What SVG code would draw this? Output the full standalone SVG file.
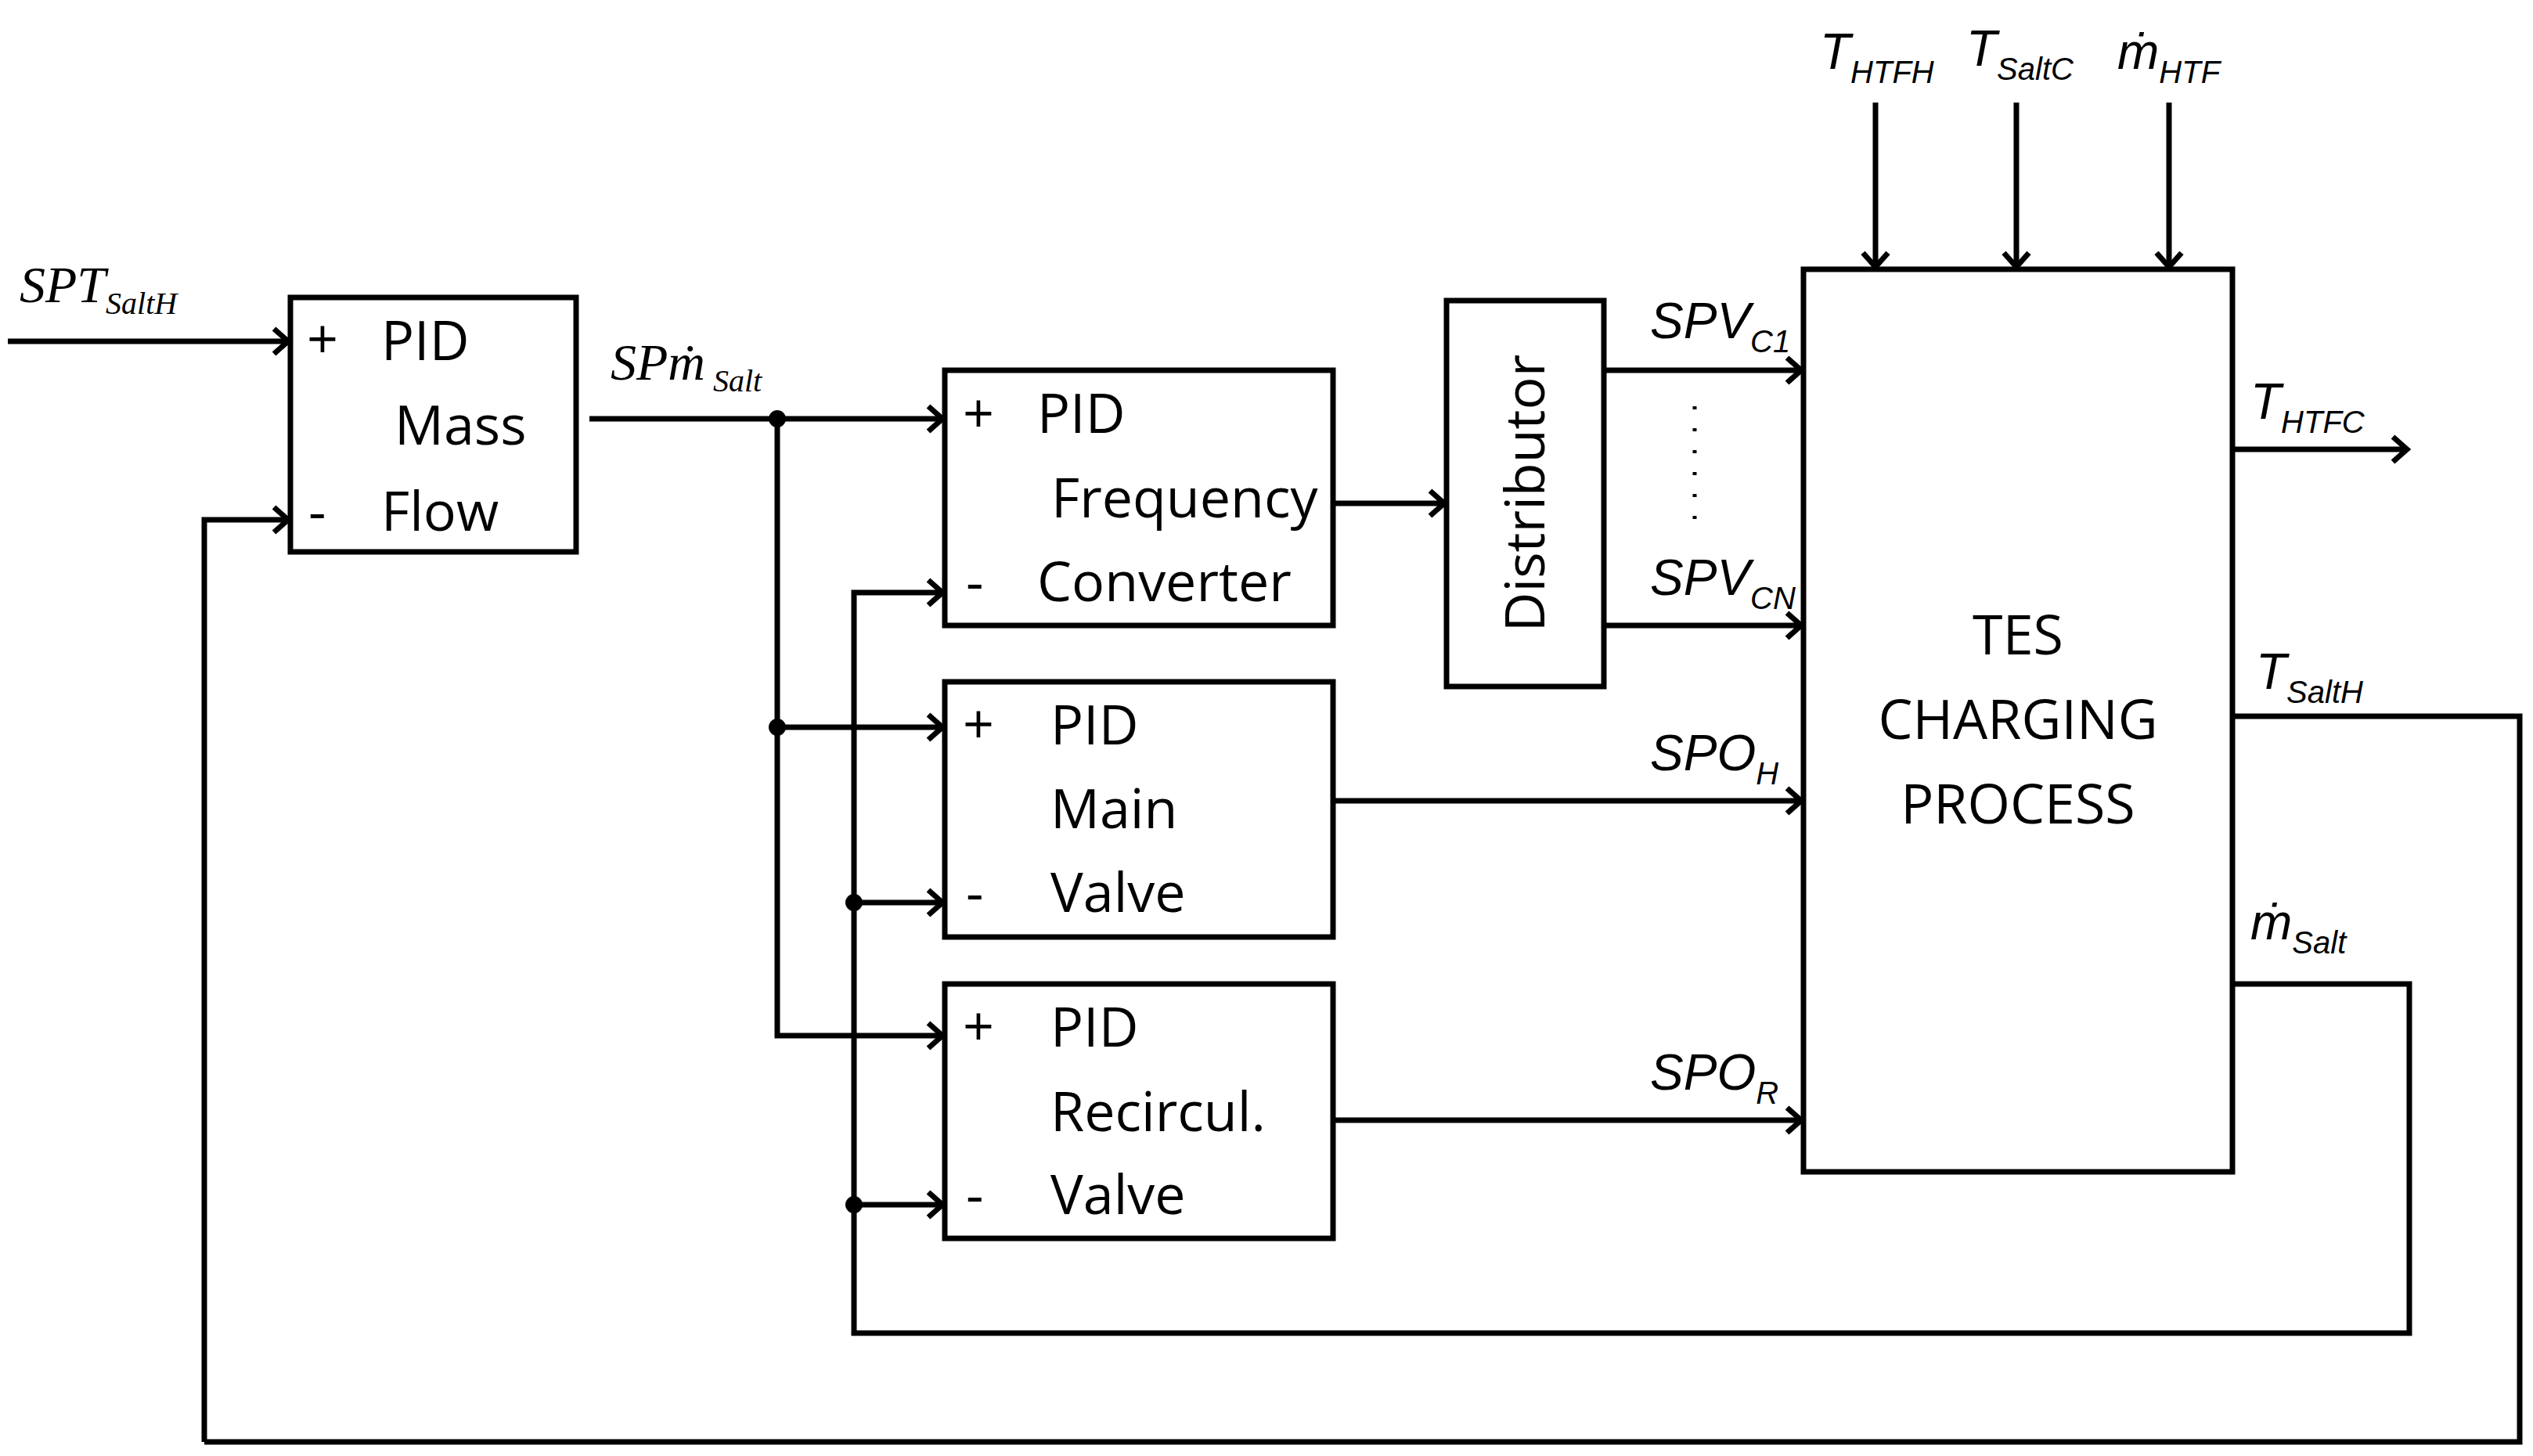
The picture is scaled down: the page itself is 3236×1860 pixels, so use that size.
<svg xmlns="http://www.w3.org/2000/svg" width="3236" height="1860" viewBox="0 0 3236 1860">
<style>
.b{fill:#fff;stroke:#000;stroke-width:7}
.l{fill:none;stroke:#000;stroke-width:7}
.t{font-family:"Open Sans","DejaVu Sans",sans-serif;font-size:70px;fill:#000}
.s{font-family:"Liberation Sans",Arial,sans-serif;font-style:italic;font-size:64px;fill:#000}
.r{font-family:"Liberation Serif","Times New Roman",serif;font-style:italic;font-size:66px;fill:#000}
.sub{font-size:40px}
</style>
<defs>
<marker id="a" markerWidth="12" markerHeight="12" refX="10" refY="6" orient="auto" markerUnits="userSpaceOnUse" viewBox="0 0 12 12" overflow="visible">
<path d="M-8,-10 L10,6 L-8,22" fill="none" stroke="#000" stroke-width="7"/>
</marker>
</defs>
<g id="connectors">
<path class="l" d="M10,436 H368" marker-end="url(#a)"/>
<path class="l" d="M261,1842 V664 H368" marker-end="url(#a)"/>
<path class="l" d="M2852,915 H3219 V1842 H261"/>
<path class="l" d="M753,535 H1204" marker-end="url(#a)"/>
<path class="l" d="M993,535 V1323 H1204" marker-end="url(#a)"/>
<path class="l" d="M993,929 H1204" marker-end="url(#a)"/>
<path class="l" d="M2852,1257 H3078 V1703 H1091 V757 H1204" marker-end="url(#a)"/>
<path class="l" d="M1091,1153 H1204" marker-end="url(#a)"/>
<path class="l" d="M1091,1539 H1204" marker-end="url(#a)"/>
<path class="l" d="M1703,643 H1845" marker-end="url(#a)"/>
<path class="l" d="M2049,473 H2301" marker-end="url(#a)"/>
<path class="l" d="M2049,799 H2301" marker-end="url(#a)"/>
<path class="l" d="M1703,1023 H2301" marker-end="url(#a)"/>
<path class="l" d="M1703,1431 H2301" marker-end="url(#a)"/>
<path class="l" d="M2396,131 V341" marker-end="url(#a)"/>
<path class="l" d="M2576,131 V341" marker-end="url(#a)"/>
<path class="l" d="M2771,131 V341" marker-end="url(#a)"/>
<path class="l" d="M2852,574 H3075" marker-end="url(#a)"/>
<circle cx="993" cy="535" r="11"/>
<circle cx="993" cy="929" r="11"/>
<circle cx="1091" cy="1153" r="11"/>
<circle cx="1091" cy="1539" r="11"/>
<path d="M2165,519 V664" stroke="#000" stroke-width="5" stroke-dasharray="4 24" fill="none"/>
</g>
<g id="massflow">
<rect class="b" x="371" y="380" width="365" height="325"/>
<text class="t" x="392" y="458">+</text><text class="t" x="487" y="460">PID</text>
<text class="t" x="504" y="568">Mass</text>
<text class="t" x="394" y="678">-</text><text class="t" x="487" y="678">Flow</text>
</g>
<g id="freq">
<rect class="b" x="1207" y="473" width="496" height="326"/>
<text class="t" x="1230" y="553">+</text><text class="t" x="1325" y="553">PID</text>
<text class="t" x="1343" y="661">Frequency</text>
<text class="t" x="1234" y="768">-</text><text class="t" x="1325" y="768">Converter</text>
</g>
<g id="mainvalve">
<rect class="b" x="1207" y="871" width="496" height="326"/>
<text class="t" x="1230" y="950">+</text><text class="t" x="1342" y="951">PID</text>
<text class="t" x="1342" y="1058">Main</text>
<text class="t" x="1234" y="1165">-</text><text class="t" x="1342" y="1165">Valve</text>
</g>
<g id="recircul">
<rect class="b" x="1207" y="1257" width="496" height="325"/>
<text class="t" x="1230" y="1336">+</text><text class="t" x="1342" y="1337">PID</text>
<text class="t" x="1342" y="1445">Recircul.</text>
<text class="t" x="1234" y="1551">-</text><text class="t" x="1342" y="1551">Valve</text>
</g>
<g id="distributor">
<rect class="b" x="1848" y="384" width="201" height="493"/>
<text class="t" transform="translate(1973,630) rotate(-90)" text-anchor="middle">Distributor</text>
</g>
<g id="tes">
<rect class="b" x="2304" y="344" width="548" height="1153"/>
<text class="t" x="2578" y="836" text-anchor="middle">TES</text>
<text class="t" x="2578" y="944" text-anchor="middle">CHARGING</text>
<text class="t" x="2578" y="1052" text-anchor="middle">PROCESS</text>
</g>
<g id="labels">
<text class="r" x="25" y="386">SPT<tspan class="sub" dy="15">SaltH</tspan></text>
<text class="r" x="780" y="485">SPṁ<tspan class="sub" dy="15"> Salt</tspan></text>
<text class="s" x="2108" y="432">SPV<tspan class="sub" dy="18">C1</tspan></text>
<text class="s" x="2108" y="760">SPV<tspan class="sub" dy="18">CN</tspan></text>
<text class="s" x="2108" y="984">SPO<tspan class="sub" dy="18">H</tspan></text>
<text class="s" x="2108" y="1392">SPO<tspan class="sub" dy="18">R</tspan></text>
<text class="s" x="2325" y="88">T<tspan class="sub" dy="18">HTFH</tspan></text>
<text class="s" x="2512" y="84">T<tspan class="sub" dy="18">SaltC</tspan></text>
<text class="s" x="2705" y="88">ṁ<tspan class="sub" dy="18">HTF</tspan></text>
<text class="s" x="2875" y="535">T<tspan class="sub" dy="18">HTFC</tspan></text>
<text class="s" x="2882" y="880">T<tspan class="sub" dy="18">SaltH</tspan></text>
<text class="s" x="2875" y="1200">ṁ<tspan class="sub" dy="18">Salt</tspan></text>
</g>
</svg>
